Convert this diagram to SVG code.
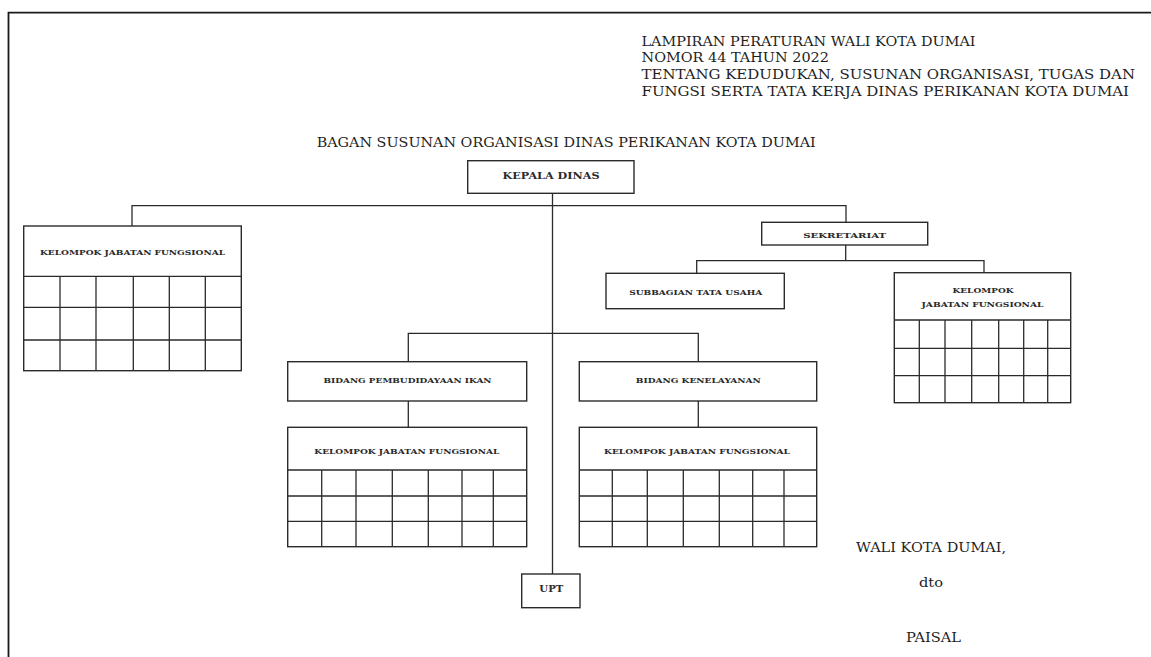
<svg xmlns="http://www.w3.org/2000/svg" width="1151" height="657" viewBox="0 0 1151 657">
<style>
.bg{fill:#ffffff}
.frame{fill:none;stroke:#1a1a1a;stroke-width:1.8}
.box{fill:#ffffff;stroke:#2b2b2b;stroke-width:1.4}
.grid{fill:none;stroke:#2b2b2b;stroke-width:1.3}
.conn{fill:none;stroke:#2b2b2b;stroke-width:1.3}
.hdr{font-family:"DejaVu Serif","Liberation Serif",serif;font-size:13.5px;fill:#1e1e1e}
.lbl{font-family:"DejaVu Serif","Liberation Serif",serif;font-size:8px;font-weight:bold;fill:#2a2a2a;text-anchor:middle}
.lbl9{font-family:"DejaVu Serif","Liberation Serif",serif;font-size:9.5px;font-weight:bold;fill:#2a2a2a;text-anchor:middle}
</style>
<rect class="bg" x="0" y="0" width="1151" height="657"/>
<path class="frame" d="M8.5,657 V12.7 H1151"/>

<g id="header">
<text class="hdr" x="641.5" y="46" textLength="334" lengthAdjust="spacingAndGlyphs">LAMPIRAN PERATURAN WALI KOTA DUMAI</text>
<text class="hdr" x="641.5" y="62" textLength="187.5" lengthAdjust="spacingAndGlyphs">NOMOR 44 TAHUN 2022</text>
<text class="hdr" x="641.5" y="79" textLength="493.5" lengthAdjust="spacingAndGlyphs">TENTANG KEDUDUKAN, SUSUNAN ORGANISASI, TUGAS DAN</text>
<text class="hdr" x="641.5" y="96" textLength="487.5" lengthAdjust="spacingAndGlyphs">FUNGSI SERTA TATA KERJA DINAS PERIKANAN KOTA DUMAI</text>
<text class="hdr" x="316.7" y="146.7" textLength="499" lengthAdjust="spacingAndGlyphs">BAGAN SUSUNAN ORGANISASI DINAS PERIKANAN KOTA DUMAI</text>
</g>

<g id="connectors">
<path class="conn" d="M552.5,193.3 V574"/>
<path class="conn" d="M132,226 V205.7 H846 V222.3"/>
<path class="conn" d="M845.7,245 V260.7"/>
<path class="conn" d="M696.7,273.3 V260.7 H984 V272.7"/>
<path class="conn" d="M408.3,361.7 V333.3 H698.3 V361.7"/>
<path class="conn" d="M408.3,401 V427.3"/>
<path class="conn" d="M698.3,401 V427.3"/>
</g>

<g id="kepala-dinas">
<rect class="box" x="467.7" y="160.7" width="166.3" height="32.6"/>
<text class="lbl9" x="551" y="179" textLength="97" lengthAdjust="spacingAndGlyphs">KEPALA DINAS</text>
</g>

<g id="kjf-kiri">
<rect class="box" x="23.7" y="226" width="217.6" height="144.7"/>
<path class="grid" d="M23.7,276.3 H241.3 M23.7,307.3 H241.3 M23.7,340 H241.3 M60,276.3 V370.7 M96,276.3 V370.7 M133.3,276.3 V370.7 M169.3,276.3 V370.7 M205.3,276.3 V370.7"/>
<text class="lbl" x="132.5" y="255" textLength="185" lengthAdjust="spacingAndGlyphs">KELOMPOK JABATAN FUNGSIONAL</text>
</g>

<g id="sekretariat">
<rect class="box" x="761.7" y="222.3" width="166" height="22.7"/>
<text class="lbl" x="844.7" y="238" textLength="83" lengthAdjust="spacingAndGlyphs">SEKRETARIAT</text>
</g>

<g id="subbagian-tata-usaha">
<rect class="box" x="606" y="273.3" width="178.3" height="35.4"/>
<text class="lbl" x="695.7" y="295" textLength="133" lengthAdjust="spacingAndGlyphs">SUBBAGIAN TATA USAHA</text>
</g>

<g id="kjf-sekretariat">
<rect class="box" x="894.3" y="272.7" width="176.4" height="130"/>
<path class="grid" d="M894.3,320 H1070.7 M894.3,348.3 H1070.7 M894.3,375.7 H1070.7 M919.3,320 V402.7 M945,320 V402.7 M971.7,320 V402.7 M998.7,320 V402.7 M1023.7,320 V402.7 M1047.7,320 V402.7"/>
<text class="lbl" x="983" y="293" textLength="61" lengthAdjust="spacingAndGlyphs">KELOMPOK</text>
<text class="lbl" x="982.5" y="307" textLength="122" lengthAdjust="spacingAndGlyphs">JABATAN FUNGSIONAL</text>
</g>

<g id="bidang-pembudidayaan-ikan">
<rect class="box" x="287.7" y="361.7" width="239" height="39.3"/>
<text class="lbl" x="407.5" y="383" textLength="168" lengthAdjust="spacingAndGlyphs">BIDANG PEMBUDIDAYAAN IKAN</text>
</g>

<g id="kjf-pembudidayaan">
<rect class="box" x="287.7" y="427.3" width="239" height="119.4"/>
<path class="grid" d="M287.7,470 H526.7 M287.7,496 H526.7 M287.7,521.3 H526.7 M321.7,470 V546.7 M356,470 V546.7 M392.3,470 V546.7 M428.3,470 V546.7 M462,470 V546.7 M493.3,470 V546.7"/>
<text class="lbl" x="406.8" y="453.5" textLength="185" lengthAdjust="spacingAndGlyphs">KELOMPOK JABATAN FUNGSIONAL</text>
</g>

<g id="bidang-kenelayanan">
<rect class="box" x="579.3" y="361.7" width="237.4" height="39.3"/>
<text class="lbl" x="698.3" y="383" textLength="125" lengthAdjust="spacingAndGlyphs">BIDANG KENELAYANAN</text>
</g>

<g id="kjf-kenelayanan">
<rect class="box" x="579.3" y="427.3" width="237.4" height="119.4"/>
<path class="grid" d="M579.3,470 H816.7 M579.3,496 H816.7 M579.3,521.3 H816.7 M612.3,470 V546.7 M647.3,470 V546.7 M683.3,470 V546.7 M719.3,470 V546.7 M752.7,470 V546.7 M784,470 V546.7"/>
<text class="lbl" x="697" y="453.5" textLength="186" lengthAdjust="spacingAndGlyphs">KELOMPOK JABATAN FUNGSIONAL</text>
</g>

<g id="upt">
<rect class="box" x="521.7" y="574" width="58.3" height="33.7"/>
<text class="lbl9" x="551.3" y="592" textLength="24" lengthAdjust="spacingAndGlyphs">UPT</text>
</g>

<g id="footer">
<text class="hdr" x="856" y="552" textLength="150" lengthAdjust="spacingAndGlyphs">WALI KOTA DUMAI,</text>
<text class="hdr" x="919" y="587" textLength="24" lengthAdjust="spacingAndGlyphs">dto</text>
<text class="hdr" x="906" y="642" textLength="55" lengthAdjust="spacingAndGlyphs">PAISAL</text>
</g>
</svg>
